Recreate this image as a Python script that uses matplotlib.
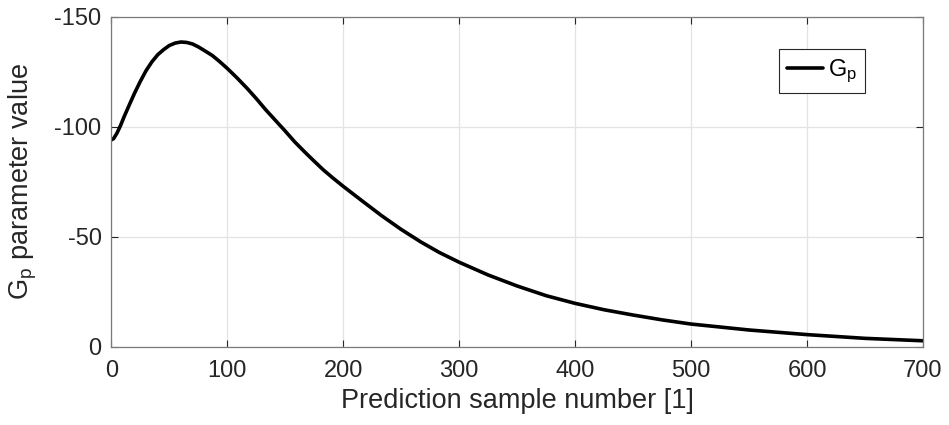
import matplotlib
matplotlib.use("Agg")
import matplotlib.pyplot as plt

# values
sample = [0, 2, 5, 8, 11, 15, 20, 25, 30, 35, 40, 45, 50, 55, 60, 65, 70,
          75, 80, 87, 93, 100, 108, 117, 125, 133, 142, 150, 158, 167, 175,
          183, 192, 200, 217, 233, 250, 267, 283, 300, 325, 350, 375, 400,
          425, 450, 475, 500, 550, 600, 650, 700]
gp = [-94.0, -94.6, -97.2, -100.6, -104.5, -109.3, -115.2, -120.6, -125.5,
      -129.5, -132.7, -135.0, -136.9, -138.0, -138.5, -138.3, -137.6,
      -136.3, -134.7, -132.4, -129.8, -126.5, -122.4, -117.5, -112.8,
      -107.8, -102.6, -98.0, -93.2, -88.4, -84.3, -80.3, -76.3, -72.9,
      -66.0, -59.6, -53.3, -47.6, -42.8, -38.4, -32.6, -27.6, -23.2,
      -19.7, -16.8, -14.4, -12.2, -10.3, -7.6, -5.5, -3.8, -2.7]

x_ticks = [0, 100, 200, 300, 400, 500, 600, 700]
y_ticks = [-150, -100, -50, 0]

plt.rcParams['font.family'] = ['Liberation Sans', 'DejaVu Sans']
plt.rcParams['mathtext.default'] = 'regular'

fig = plt.figure(figsize=(9.49, 4.25), dpi=100)
ax = fig.add_axes([0.1173, 0.1842, 0.8553, 0.7765])

ax.plot(sample, gp, color='black', linewidth=2.6, label='$G_p$',
        solid_joinstyle='round', solid_capstyle='round')

ax.set_xlim(0, 700)
ax.set_ylim(0, -150)
ax.set_xticks(x_ticks)
ax.set_yticks(y_ticks)
ax.set_yticklabels([str(v) for v in y_ticks])

ax.grid(True, color='#e3e3e3', linewidth=0.9)
ax.set_axisbelow(True)
for s in ax.spines.values():
    s.set_color('#7a7a7a')
    s.set_linewidth(0.9)
ax.tick_params(direction='in', length=5, width=0.8, color='#262626',
               labelcolor='#262626', labelsize=17, top=True, right=True)
ax.tick_params(axis='x', pad=9.8)
ax.tick_params(axis='y', pad=7)

ax.set_xlabel('Prediction sample number [1]', fontsize=19.5, color='#262626', labelpad=4)
ax.set_ylabel('$G_p$ parameter value', fontsize=19.5, color='#262626', labelpad=11)

leg = ax.legend(loc='upper right', bbox_to_anchor=(0.9285, 0.901), borderaxespad=0,
                fontsize=17, fancybox=False, framealpha=1, edgecolor='#262626',
                handlelength=1.5, handletextpad=0.2, borderpad=0.35)
leg.get_frame().set_linewidth(0.8)

fig.savefig('out.png', dpi=100)
